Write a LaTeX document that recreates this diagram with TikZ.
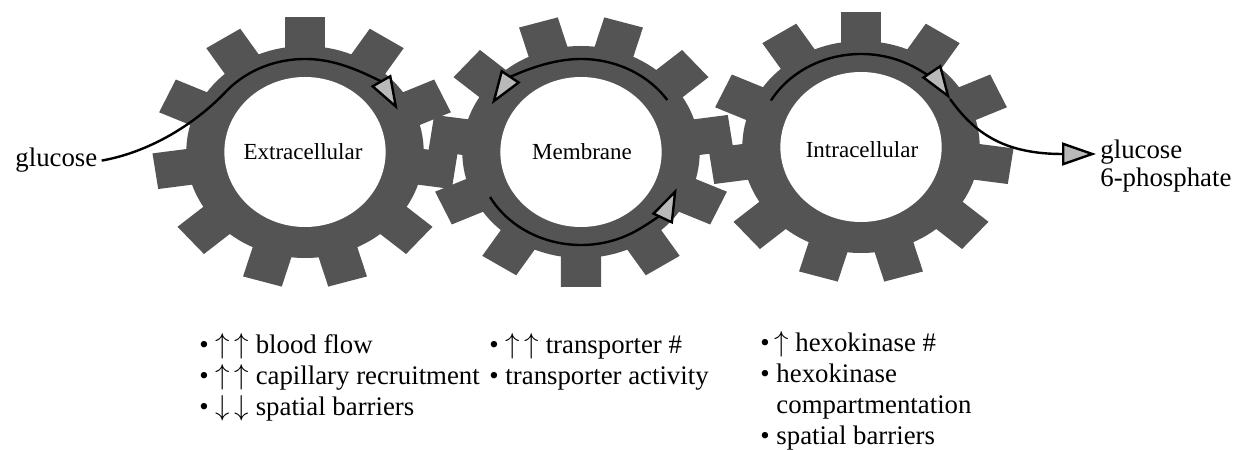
\documentclass[tikz,border=0pt]{standalone}
\usepackage{fontspec}
\setmainfont{Liberation Serif}
\usetikzlibrary{arrows.meta}
\definecolor{gearcol}{RGB}{84,84,84}
\definecolor{tipcol}{RGB}{185,185,185}

\begin{document}
\begin{tikzpicture}[x=0.5pt,y=0.5pt,
  gearfill/.style={fill=gearcol},
  spin/.style={line width=1.2pt,-{Triangle[length=17pt,width=11.5pt,fill=tipcol]}},
  gearlabel/.style={font=\fontsize{11.5}{13}\selectfont},
  sidetext/.style={font=\fontsize{13.4}{14}\selectfont,inner sep=0pt},
  listtext/.style={font=\fontsize{13.4}{15.5}\selectfont,align=left,anchor=north west,inner sep=0pt}]
\useasboundingbox (0,0) rectangle (1234,449);

% the three gears
\foreach \cx/\cy/\off in {305/297/90, 581/297/106.36, 861/302/90}{
  \begin{scope}[shift={(\cx,\cy)},xscale=1.12]
    \fill[gearfill] (0,0) circle (106);
    \foreach \k in {0,...,10}
      \fill[gearfill,rotate={\off+\k*360/11}] (96,-18) rectangle (135,18);
    \fill[white] (0,0) circle[x radius=72,y radius=75];
  \end{scope}
}
\coordinate (ext) at (305,297);
\coordinate (mem) at (581,297);
\coordinate (int) at (861,302);

\node[gearlabel] (extra) at (303,297) {Extracellular};
\node[gearlabel] (membr) at (582,297) {Membrane};
\node[gearlabel] (intra) at (862,299) {Intracellular};

\node[sidetext,inner sep=2pt,anchor=base west] (gluc) at (11,282) {glucose};
\node[sidetext,anchor=north west,align=left] (g6p) at (1100,309) {glucose\\6-phosphate};

% flow through the gears
\draw[spin] (gluc.east) .. controls (150,297) and (195,325) .. ([shift={(140:104 and 93)}]ext)
  arc[start angle=140,end angle=27,x radius=104,y radius=93];
\draw[spin] ([shift={(34:104 and 93)}]mem) arc[start angle=34,end angle=149,x radius=104,y radius=93];
\draw[spin] ([shift={(209:104 and 93)}]mem) arc[start angle=209,end angle=337,x radius=104,y radius=93];
\draw[spin] ([shift={(150:104 and 93)}]int) arc[start angle=150,end angle=31,x radius=104,y radius=93];
\draw[spin] ([shift={(31:104 and 93)}]int) .. controls (975,315) and (1005,295) .. ([xshift=-2pt,yshift=-7pt]g6p.north west);

% what changes at each step
\node[listtext] (list1) at (199,116) {\textbullet\ $\uparrow\,\uparrow$ blood flow\\
  \textbullet\ $\uparrow\,\uparrow$ capillary recruitment\\
  \textbullet\ $\downarrow\,\downarrow$ spatial barriers};
\node[listtext] (list2) at (489,116) {\textbullet\ $\uparrow\,\uparrow$ transporter \#\\
  \textbullet\ transporter activity};
\node[listtext] (list3) at (760,118) {\textbullet\,$\uparrow$ hexokinase \#\\
  \textbullet\ hexokinase\\
  \hphantom{\textbullet\ }compartmentation\\
  \textbullet\ spatial barriers};
\end{tikzpicture}
\end{document}
